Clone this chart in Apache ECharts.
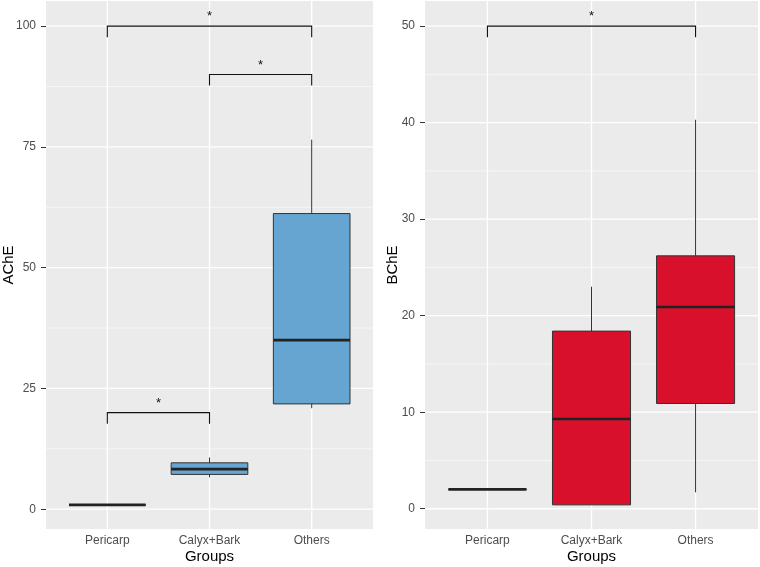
<!DOCTYPE html>
<html>
<head>
<meta charset="utf-8">
<script src="https://cdn.jsdelivr.net/npm/echarts@6/dist/echarts.min.js"></script>
<style>
  html, body { margin: 0; padding: 0; background: #fff; }
  #main { width: 760px; height: 567px; }
</style>
</head>
<body>
<div id="main"></div>
<script>
// groups on the x axis (positions 1, 2, 3)
const groups = ['Pericarp', 'Calyx+Bark', 'Others'];
const groupPos = [1, 2, 3];

// box stats per group: [x, low whisker, Q1, median, Q3, high whisker]
const acheBoxes = [
  [1, 0.9, 0.9, 0.9, 0.9, 0.9],
  [2, 6.6, 7.2, 8.3, 9.6, 10.7],
  [3, 20.9, 21.8, 35.0, 61.2, 76.5]
];
const bcheBoxes = [
  [1, 2.0, 2.0, 2.0, 2.0, 2.0],
  [2, 0.4, 0.4, 9.3, 18.4, 23.0],
  [3, 1.7, 10.9, 20.9, 26.2, 40.3]
];

// significance brackets: [from group, to group, height]
const acheBrackets = [[1, 3, 100], [2, 3, 90], [1, 2, 20]];
const bcheBrackets = [[1, 3, 50]];

// tick labels
const acheTicks = [0, 25, 50, 75, 100];
const acheMinor = [12.5, 37.5, 62.5, 87.5];
const bcheTicks = [0, 10, 20, 30, 40, 50];
const bcheMinor = [5, 15, 25, 35, 45];

const acheRange = [-4.1, 105.2];
const bcheRange = [-2.1, 52.6];

const BLUE = '#66A4D1';
const RED = '#D8102C';
const X_MIN = 0.4, X_MAX = 3.6;

function hLines(width) {
  return function (params, api) {
    const v = api.value(0);
    const a = api.coord([X_MIN, v]);
    const b = api.coord([X_MAX, v]);
    return { type: 'line', shape: { x1: a[0], y1: a[1], x2: b[0], y2: b[1] },
      style: { stroke: '#fff', lineWidth: width } };
  };
}

function vLines(yr) {
  return function (params, api) {
    const v = api.value(0);
    const a = api.coord([v, yr[0]]);
    const b = api.coord([v, yr[1]]);
    return { type: 'line', shape: { x1: a[0], y1: a[1], x2: b[0], y2: b[1] },
      style: { stroke: '#fff', lineWidth: 1.3 } };
  };
}

function boxItem(fill) {
  return function (params, api) {
    const x = api.value(0);
    const lo = api.coord([x, api.value(1)]);
    const q1 = api.coord([x, api.value(2)]);
    const med = api.coord([x, api.value(3)]);
    const q3 = api.coord([x, api.value(4)]);
    const hi = api.coord([x, api.value(5)]);
    const left = api.coord([x - 0.375, 0])[0];
    const right = api.coord([x + 0.375, 0])[0];
    const stroke = { stroke: '#333', lineWidth: 1 };
    return {
      type: 'group',
      children: [
        { type: 'line', shape: { x1: lo[0], y1: lo[1], x2: q1[0], y2: q1[1] }, style: stroke },
        { type: 'line', shape: { x1: q3[0], y1: q3[1], x2: hi[0], y2: hi[1] }, style: stroke },
        { type: 'rect', shape: { x: left, y: q3[1], width: right - left, height: q1[1] - q3[1] },
          style: { fill: fill, stroke: '#333', lineWidth: 1 } },
        { type: 'line', shape: { x1: left, y1: med[1], x2: right, y2: med[1] },
          style: { stroke: '#222', lineWidth: 2.6 } }
      ]
    };
  };
}

function bracketItem(tip) {
  return function (params, api) {
    const x1 = api.value(0), x2 = api.value(1), y = api.value(2);
    const p1 = api.coord([x1, y - tip]);
    const p2 = api.coord([x1, y]);
    const p3 = api.coord([x2, y]);
    const p4 = api.coord([x2, y - tip]);
    const mid = api.coord([(x1 + x2) / 2, y]);
    return {
      type: 'group',
      children: [
        { type: 'polyline', shape: { points: [p1, p2, p3, p4] },
          style: { stroke: '#111', lineWidth: 1.1, fill: null } },
        { type: 'text', x: mid[0], y: mid[1] - 3,
          style: { text: '*', fill: '#111', font: '13px "Liberation Sans", Arial, sans-serif',
            align: 'center', verticalAlign: 'bottom' } }
      ]
    };
  };
}

const labelFont = { color: '#4D4D4D', fontSize: 12, fontFamily: '"Liberation Sans", Arial, sans-serif' };
const titleFont = { color: '#000', fontSize: 15, fontFamily: '"Liberation Sans", Arial, sans-serif' };

function xAxis(idx) {
  return {
    type: 'value', gridIndex: idx, min: X_MIN, max: X_MAX,
    name: 'Groups', nameLocation: 'middle', nameGap: 20, nameTextStyle: titleFont,
    nameMoveOverlap: false,
    axisLine: { show: false },
    splitLine: { show: false },
    axisTick: { show: true, length: 4, customValues: groupPos, lineStyle: { color: '#333' } },
    axisLabel: Object.assign({ margin: 6, customValues: groupPos,
      formatter: v => groups[Math.round(v) - 1] || '' }, labelFont)
  };
}

function yAxis(idx, name, range, ticks, gap) {
  return {
    type: 'value', gridIndex: idx, min: range[0], max: range[1],
    name: name, nameLocation: 'middle', nameGap: gap, nameRotate: 90, nameTextStyle: titleFont,
    nameMoveOverlap: false,
    axisLine: { show: false },
    splitLine: { show: false },
    axisTick: { show: true, length: 5, customValues: ticks, lineStyle: { color: '#333' } },
    axisLabel: Object.assign({ margin: 10, customValues: ticks }, labelFont)
  };
}

const option = {
  backgroundColor: '#fff',
  animation: false,
  grid: [
    { left: 46, top: 1, width: 327, height: 528, show: true, backgroundColor: '#EBEBEB',
      borderWidth: 0, outerBoundsMode: 'none', containLabel: false },
    { left: 425, top: 1, width: 333, height: 528, show: true, backgroundColor: '#EBEBEB',
      borderWidth: 0, outerBoundsMode: 'none', containLabel: false }
  ],
  xAxis: [xAxis(0), xAxis(1)],
  yAxis: [
    yAxis(0, 'AChE', acheRange, acheTicks, 30),
    yAxis(1, 'BChE', bcheRange, bcheTicks, 25)
  ],
  series: [
    { type: 'custom', xAxisIndex: 0, yAxisIndex: 0, z: 1, silent: true,
      data: acheMinor.map(v => [v]), renderItem: hLines(0.6) },
    { type: 'custom', xAxisIndex: 0, yAxisIndex: 0, z: 1, silent: true,
      data: acheTicks.map(v => [v]), renderItem: hLines(1.3) },
    { type: 'custom', xAxisIndex: 0, yAxisIndex: 0, z: 1, silent: true,
      data: groupPos.map(v => [v]), renderItem: vLines(acheRange) },
    { type: 'custom', xAxisIndex: 1, yAxisIndex: 1, z: 1, silent: true,
      data: bcheMinor.map(v => [v]), renderItem: hLines(0.6) },
    { type: 'custom', xAxisIndex: 1, yAxisIndex: 1, z: 1, silent: true,
      data: bcheTicks.map(v => [v]), renderItem: hLines(1.3) },
    { type: 'custom', xAxisIndex: 1, yAxisIndex: 1, z: 1, silent: true,
      data: groupPos.map(v => [v]), renderItem: vLines(bcheRange) },
    { type: 'custom', xAxisIndex: 0, yAxisIndex: 0, z: 3,
      data: acheBoxes, renderItem: boxItem(BLUE) },
    { type: 'custom', xAxisIndex: 1, yAxisIndex: 1, z: 3,
      data: bcheBoxes, renderItem: boxItem(RED) },
    { type: 'custom', xAxisIndex: 0, yAxisIndex: 0, z: 4,
      data: acheBrackets, renderItem: bracketItem(2.3) },
    { type: 'custom', xAxisIndex: 1, yAxisIndex: 1, z: 4,
      data: bcheBrackets, renderItem: bracketItem(1.15) }
  ]
};

const chart = echarts.init(document.getElementById('main'), null, { renderer: 'canvas' });
chart.setOption(option);
</script>
</body>
</html>
